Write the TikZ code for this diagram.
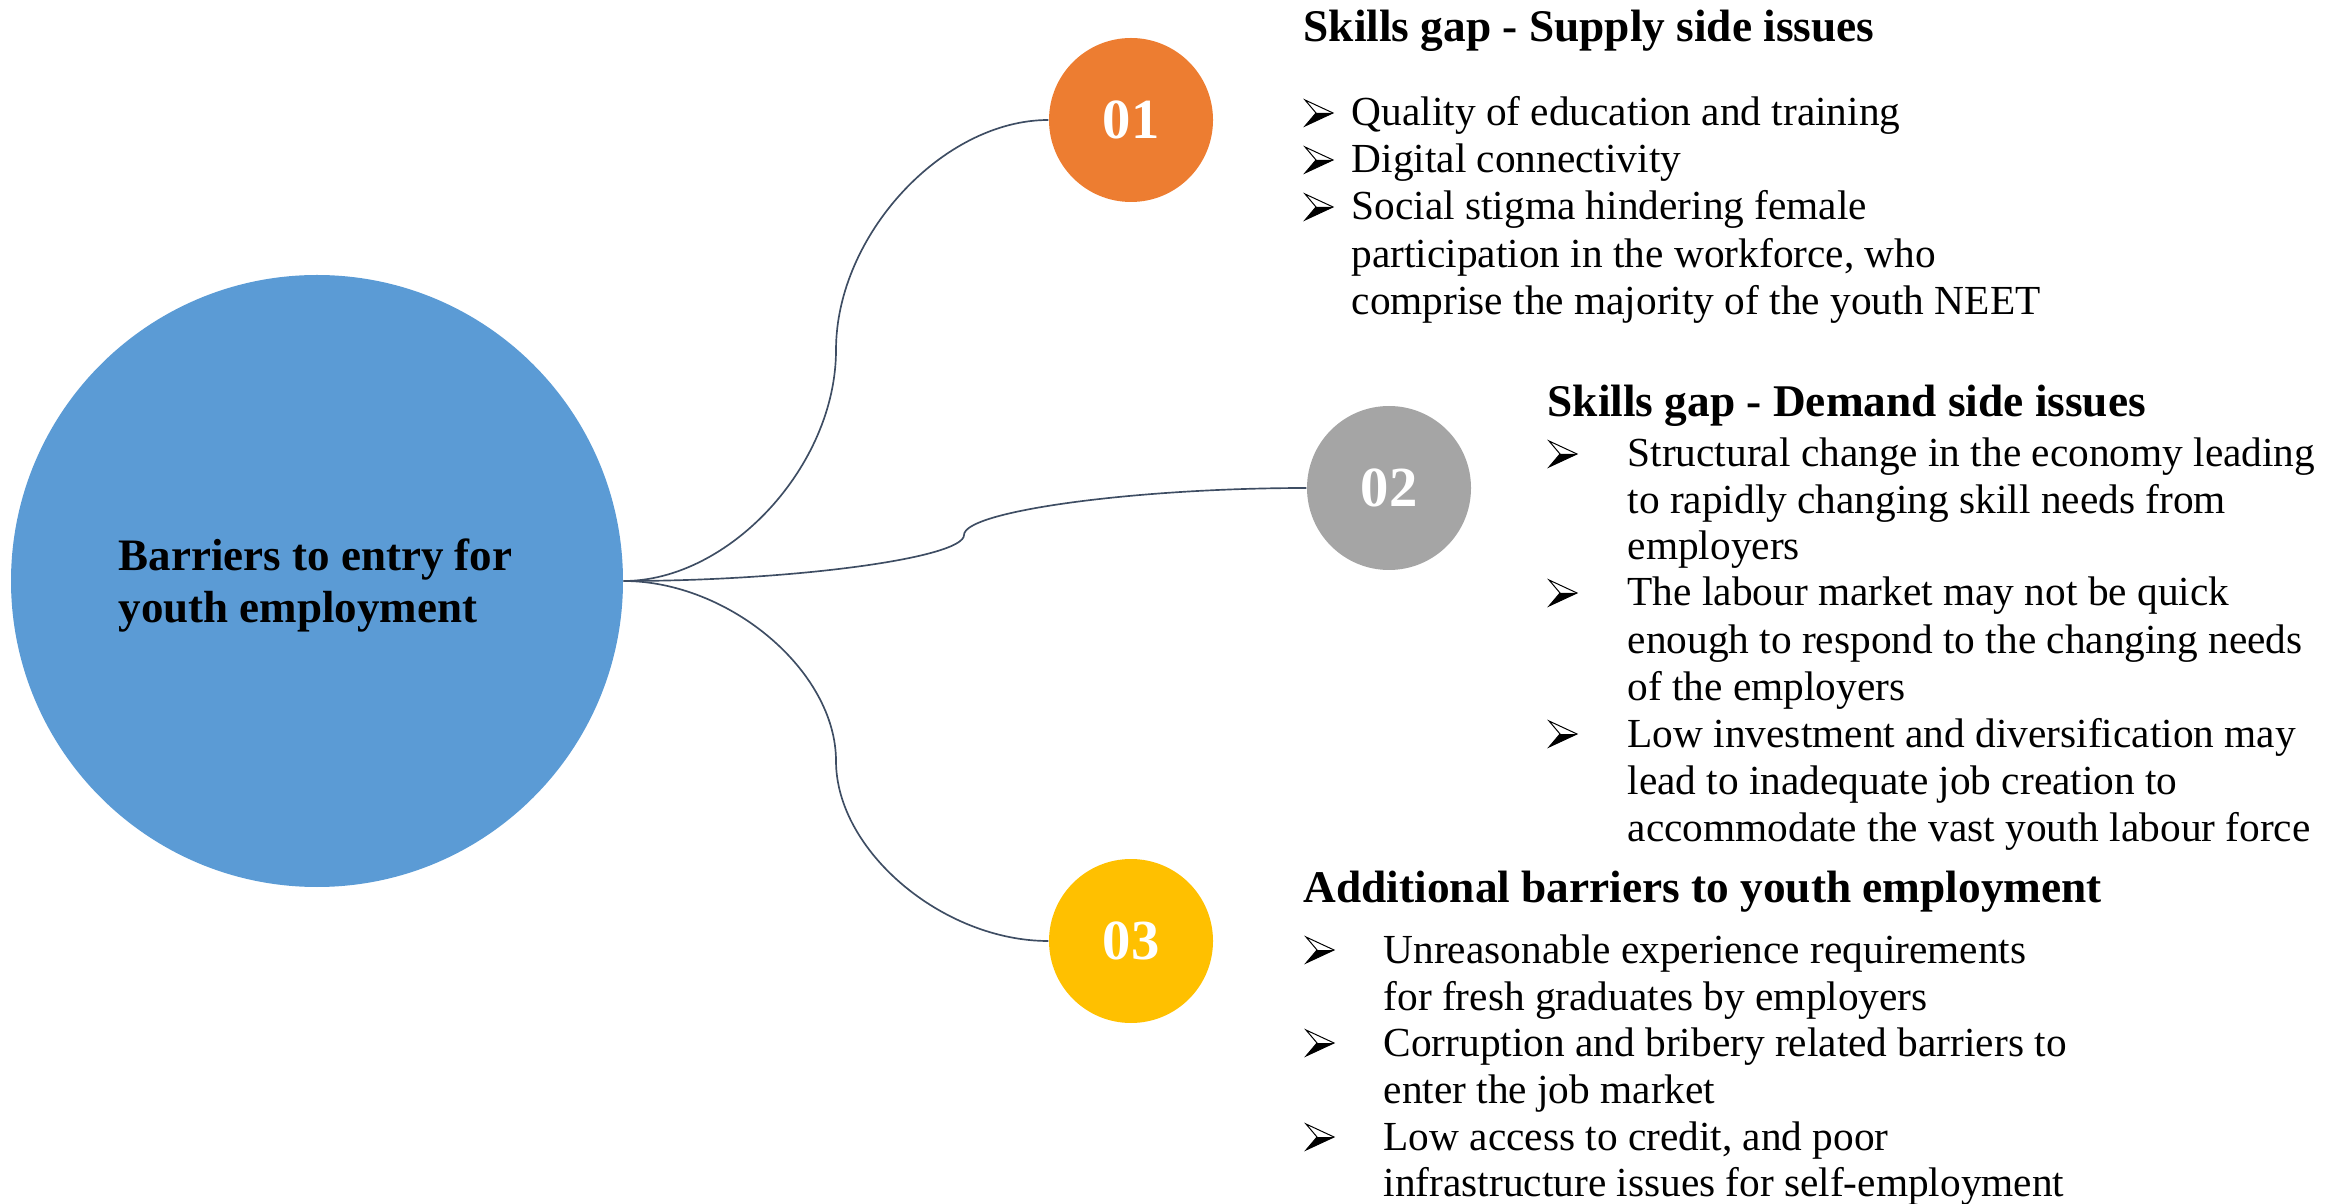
\documentclass[tikz,border=0pt]{standalone}
\usepackage{fontspec}
\setmainfont{Liberation Serif}
\definecolor{bigblue}{HTML}{5B9BD5}
\definecolor{orng}{HTML}{ED7D31}
\definecolor{gry}{HTML}{A5A5A5}
\definecolor{ylw}{HTML}{FFC000}
\definecolor{linec}{HTML}{3E4D63}
\begin{document}
\begin{tikzpicture}[x=0.3pt,y=-0.3pt,
  body/.style={anchor=base west, inner sep=0, font=\fontsize{12.4}{14.1}\selectfont},
  head/.style={anchor=base west, inner sep=0, font=\bfseries\fontsize{13.6}{16}\selectfont},
  num/.style={circle, inner sep=0, minimum size=49.2pt, text=white, font=\bfseries\fontsize{17}{20}\selectfont},
  conn/.style={draw=linec, line width=0.5pt},
  arrowbul/.pic={
    \fill[black] (11,-13) -- (28,-13) -- (0,0) -- cycle;
    \draw[black, line width=0.3pt, line join=miter] (0,-26) -- (28,-13) -- (0,0) -- (11,-13) -- cycle;
  }]
\useasboundingbox (0,0) rectangle (2349,1204);

% main circle
\node[circle, fill=bigblue, inner sep=0, minimum size=183.6pt] (big) at (317,581) {};
\node[anchor=base west, inner sep=0, font=\bfseries\fontsize{13.5}{16}\selectfont] (bigt1) at (118,571) {Barriers to entry for};
\node[anchor=base west, inner sep=0, font=\bfseries\fontsize{13.5}{16}\selectfont] (bigt2) at (118,623) {youth employment};

% number circles
\node[num, fill=orng] (c1) at (1131,120) {01};
\node[num, fill=gry] (c2) at (1389,488) {02};
\node[num, fill=ylw] (c3) at (1131,941) {03};

% connectors
\draw[conn] (big.east) .. controls (729,581) and (836,466) .. (836,350)
   .. controls (836,235) and (943,120) .. (c1.west);
\draw[conn] (big.east) .. controls (793,581) and (964,558) .. (964,535)
   .. controls (964,511) and (1136,488) .. (c2.west);
\draw[conn] (big.east) .. controls (729,581) and (836,671) .. (836,761)
   .. controls (836,851) and (943,941) .. (c3.west);

% section 1
\node[head] (h1) at (1303,42) {Skills gap - Supply side issues};
\pic at (1305,126) {arrowbul};
\node[body] (t11) at (1351,126) {Quality of education and training};
\pic at (1305,173) {arrowbul};
\node[body] (t12) at (1351,173) {Digital connectivity};
\pic at (1305,220) {arrowbul};
\node[body] (t13) at (1351,220) {Social stigma hindering female};
\node[body] (t14) at (1351,268) {participation in the workforce, who};
\node[body] (t15) at (1351,315) {comprise the majority of the youth NEET};

% section 2
\node[head] (h2) at (1547,417) {Skills gap - Demand side issues};
\pic at (1549,467) {arrowbul};
\node[body] (t21) at (1627,467) {Structural change in the economy leading};
\node[body] (t22) at (1627,514) {to rapidly changing skill needs from};
\node[body] (t23) at (1627,560) {employers};
\pic at (1549,606) {arrowbul};
\node[body] (t24) at (1627,606) {The labour market may not be quick};
\node[body] (t25) at (1627,654) {enough to respond to the changing needs};
\node[body] (t26) at (1627,701) {of the employers};
\pic at (1549,747) {arrowbul};
\node[body] (t27) at (1627,747) {Low investment and diversification may};
\node[body] (t28) at (1627,794) {lead to inadequate job creation to};
\node[body] (t29) at (1627,841) {accommodate the vast youth labour force};

% section 3
\node[head] (h3) at (1303,902) {Additional barriers to youth employment};
\pic at (1306,963) {arrowbul};
\node[body] (t31) at (1383,963) {Unreasonable experience requirements};
\node[body] (t32) at (1383,1010) {for fresh graduates by employers};
\pic at (1306,1056) {arrowbul};
\node[body] (t33) at (1383,1056) {Corruption and bribery related barriers to};
\node[body] (t34) at (1383,1103) {enter the job market};
\pic at (1306,1150) {arrowbul};
\node[body] (t35) at (1383,1150) {Low access to credit, and poor};
\node[body] (t36) at (1383,1196) {infrastructure issues for self-employment};
\end{tikzpicture}
\end{document}
